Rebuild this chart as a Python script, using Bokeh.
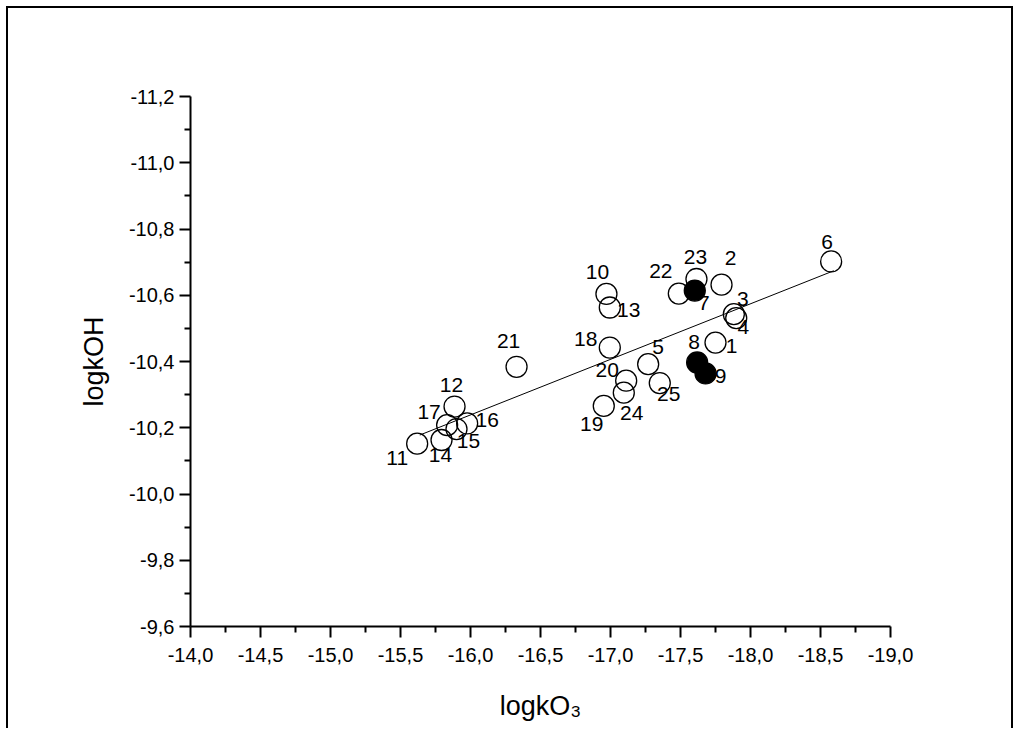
from bokeh.plotting import figure
from bokeh.models import Range1d, FixedTicker, CustomJSTickFormatter, ColumnDataSource, InlineStyleSheet
from bokeh.core.properties import value
from bokeh.embed import file_html
from bokeh.resources import INLINE

# ---- data ----
ids = [str(i) for i in range(1, 26)]
logkO3 = [-17.750, -17.793, -17.881, -17.898, -17.269, -18.576, -17.602, -17.619, -17.679, -16.971,
          -15.619, -15.886, -16.995, -15.793, -15.900, -15.976, -15.833, -16.995, -16.952, -17.112,
          -16.329, -17.488, -17.614, -17.095, -17.352]
logkOH = [-10.457, -10.632, -10.543, -10.531, -10.392, -10.702, -10.614, -10.397, -10.364, -10.604,
          -10.152, -10.264, -10.563, -10.163, -10.196, -10.213, -10.208, -10.442, -10.266, -10.342,
          -10.384, -10.605, -10.649, -10.306, -10.335]
filled_ids = ["7", "8", "9"]

fit_x = [-15.638, -18.595]
fit_y = [-10.178, -10.674]

x_ticks = [-14.0, -14.5, -15.0, -15.5, -16.0, -16.5, -17.0, -17.5, -18.0, -18.5, -19.0]
x_minor = [-14.25, -14.75, -15.25, -15.75, -16.25, -16.75, -17.25, -17.75, -18.25, -18.75]
y_ticks = [-9.6, -9.8, -10.0, -10.2, -10.4, -10.6, -10.8, -11.0, -11.2]
y_minor = [-9.7, -9.9, -10.1, -10.3, -10.5, -10.7, -10.9, -11.1]

x_title = "logkO\u2083"
y_title = "logkOH"

# label placement (screen px offsets from each marker) - styling only
label_dx = [16, 9, 9, 7, 10, -4, 9, -3, 15, -9, -20, -3, 19, -1, 12, 20, -18, -24, -12, -19, -8, -18, -1, 8, 9]
label_dy = [3, -27, -15, 9, -17, -19, 12, -20, 3, -22, 14, -22, 2, 15, 12, -3, -13, -9, 18, -11, -26, -23, -22, 20, 11]

FONT = "Liberation Sans"

p = figure(width=1013, height=728, output_backend="svg", toolbar_location=None,
           x_range=Range1d(-14, -19), y_range=Range1d(-9.6, -11.2),
           min_border_left=190, min_border_right=123, min_border_top=96, min_border_bottom=102)
p.background_fill_color = "white"
p.border_fill_color = None
p.outline_line_color = None
p.xgrid.visible = False
p.ygrid.visible = False
p.stylesheets = [InlineStyleSheet(css=(
    ":host { box-shadow: inset 6px 6px 0 0 white, inset 8px 8px 0 0 black, "
    "inset -2px 0 0 0 black; }"))]

fmt = CustomJSTickFormatter(code="return tick.toFixed(1).replace('.', ',');")
p.xaxis.ticker = FixedTicker(ticks=x_ticks, minor_ticks=x_minor)
p.yaxis.ticker = FixedTicker(ticks=y_ticks, minor_ticks=y_minor)
p.xaxis.formatter = fmt
p.yaxis.formatter = fmt

for ax in (p.xaxis[0], p.yaxis[0]):
    ax.axis_line_width = 2
    ax.axis_line_color = "black"
    ax.major_tick_line_width = 2
    ax.minor_tick_line_width = 2
    ax.major_tick_line_color = "black"
    ax.minor_tick_line_color = "black"
    ax.major_tick_in = 0
    ax.minor_tick_in = 0
    ax.major_tick_out = 11
    ax.minor_tick_out = 6
    ax.major_label_text_font = FONT
    ax.major_label_text_font_size = "20px"
    ax.major_label_text_color = "black"
    ax.axis_label_text_font = FONT
    ax.axis_label_text_font_size = "27px"
    ax.axis_label_text_font_style = "normal"
    ax.axis_label_text_color = "black"

p.xaxis.axis_label = x_title
p.yaxis.axis_label = y_title
p.xaxis.major_label_standoff = 10
p.yaxis.major_label_standoff = 5
p.xaxis.axis_label_standoff = 26
p.yaxis.axis_label_standoff = 17

# regression line
p.line(fit_x, fit_y, line_color="black", line_width=1)

src = ColumnDataSource(dict(x=logkO3, y=logkOH, id=ids,
                            fill=["black" if i in filled_ids else None for i in ids],
                            dx=label_dx, dy=label_dy))
p.scatter("x", "y", source=src, marker="circle", size=21, line_color="black",
          line_width=1.3, fill_color="fill")
p.text("x", "y", text="id", source=src, x_offset="dx", y_offset="dy",
       text_font=value(FONT), text_font_size="21px", text_color="black",
       text_align="center", text_baseline="middle")

open("out.html", "w").write(file_html(p, INLINE))
